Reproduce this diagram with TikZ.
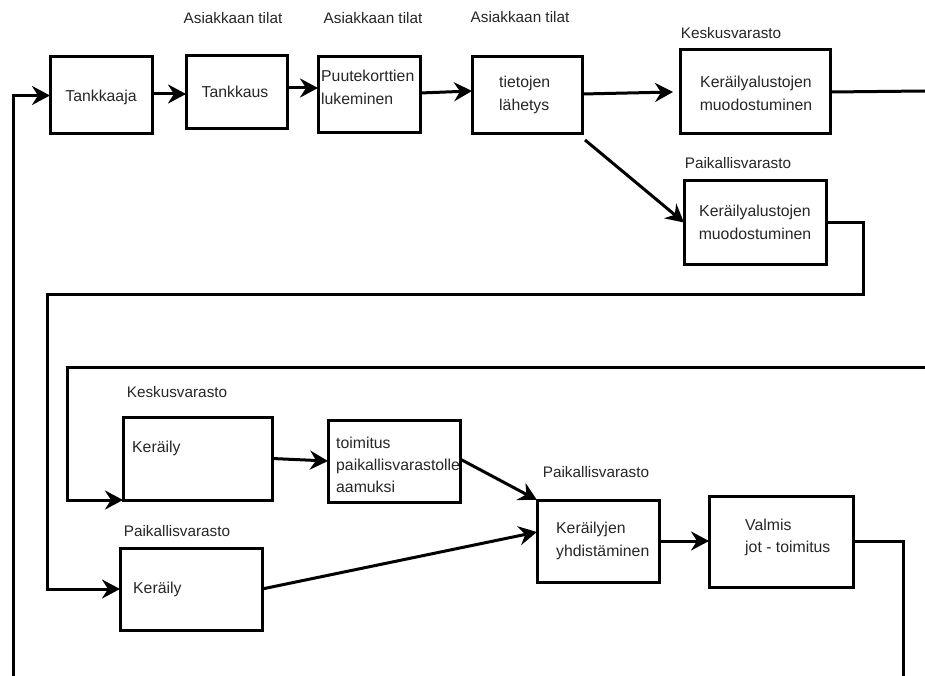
\documentclass[tikz,border=0pt]{standalone}
\usepackage{fontspec}
\setmainfont{Liberation Sans}
\usetikzlibrary{arrows.meta,calc}
\begin{document}
\begin{tikzpicture}[x=1pt,y=-1pt,
 boxnode/.style={draw=black,line width=3pt,inner sep=0pt,outer sep=0pt},
 txt/.style={font=\fontsize{15.8}{23}\selectfont,text=black!85,inner sep=0pt,align=left},
 lbl/.style={font=\fontsize{15.3}{17}\selectfont,text=black!85,inner sep=0pt},
 conn/.style={line width=3pt,-{Stealth[length=18pt,width=19pt,inset=6pt]}},
 plainline/.style={line width=3pt}]
\useasboundingbox (0,0) rectangle (925,676);

% boxes
\node[boxnode,minimum width=102,minimum height=77] (tankkaaja) at (101,95.5) {};
\node[boxnode,minimum width=101,minimum height=73] (tankkaus) at (236.5,92.5) {};
\node[boxnode,minimum width=102,minimum height=76] (puute) at (369,95) {};
\node[boxnode,minimum width=110,minimum height=77] (tietojen) at (527,95.5) {};
\node[boxnode,minimum width=150,minimum height=84] (kerA) at (755,92) {};
\node[boxnode,minimum width=142,minimum height=83] (kerB) at (755,222.5) {};
\node[boxnode,minimum width=149,minimum height=83] (kerK) at (197.5,458.5) {};
\node[boxnode,minimum width=132,minimum height=82] (toim) at (394,461) {};
\node[boxnode,minimum width=122,minimum height=82] (yhd) at (598,541) {};
\node[boxnode,minimum width=144,minimum height=91] (valm) at (781,541.5) {};
\node[boxnode,minimum width=142,minimum height=82] (kerP) at (191,589) {};

% box texts
\node[txt] (t1) at (101,97) {Tankkaaja};
\node[txt] (t2) at (235,92) {Tankkaus};
\node[txt,anchor=west] (t3) at (321,87) {Puutekorttien\\lukeminen};
\node[txt,anchor=west] (t4) at (499,95) {tietojen\\lähetys};
\node[txt,align=center] (t5) at (756,93) {Keräilyalustojen\\muodostuminen};
\node[txt,align=center] (t6) at (755,222) {Keräilyalustojen\\muodostuminen};
\node[txt,anchor=west] (t7) at (132,448) {Keräily};
\node[txt,anchor=west,font=\fontsize{15.8}{22}\selectfont] (t8) at (336,465) {toimitus\\paikallisvarastolle\\aamuksi};
\node[txt,anchor=west] (t9) at (556,541) {Keräilyjen\\yhdistäminen};
\node[txt,anchor=west,font=\fontsize{15.8}{22}\selectfont] (t10) at (745,537) {Valmis\\jot - toimitus};
\node[txt,anchor=west] (t11) at (133,589) {Keräily};

% labels
\node[lbl] (l1) at (233,18) {Asiakkaan tilat};
\node[lbl] (l2) at (373,18) {Asiakkaan tilat};
\node[lbl] (l3) at (520,17) {Asiakkaan tilat};
\node[lbl] (l4) at (731,33) {Keskusvarasto};
\node[lbl] (l5) at (738,163) {Paikallisvarasto};
\node[lbl] (l6) at (177,392) {Keskusvarasto};
\node[lbl] (l7) at (596,472) {Paikallisvarasto};
\node[lbl] (l8) at (177,531) {Paikallisvarasto};

% free ends
\coordinate (leftbot) at (13,676);
\coordinate (rightbot) at (903,676);
\coordinate (rightA) at (925,91);
\coordinate (rightB) at (925,367);

% connectors
\draw[conn] (leftbot) |- (tankkaaja.west);
\draw[conn] ([yshift=1.5]tankkaaja.east) -- ([yshift=1.5]tankkaaja.east -| tankkaus.west);
\draw[conn] ([yshift=4.5]tankkaus.east) -- ([yshift=4.5]tankkaus.east -| puute.west);
\draw[conn] ([yshift=2]puute.east) -- ([yshift=4.5]tietojen.west);
\draw[conn] ([yshift=1.5]tietojen.east) -- ([xshift=-7]kerA.west);
\draw[plainline] (kerA.east) -- (rightA);
\draw[conn] ([shift={(3,6)}]tietojen.south east) -- (kerB.west);
\draw[conn] (kerB.east) -- (863,222.5) -- (863,294) -- (47,294) |- (kerP.west);
\draw[conn] (rightB) -- (67,367) |- (kerK.south west);
\draw[conn] (kerK.east) -- (toim.west);
\draw[conn] ([yshift=2]toim.east) -- (yhd.north west);
\draw[conn] (kerP.east) -- ([yshift=9]yhd.west);
\draw[conn] (yhd.east) -- (yhd.east -| valm.west);
\draw[plainline] (valm.east) -| (rightbot);
\end{tikzpicture}
\end{document}
